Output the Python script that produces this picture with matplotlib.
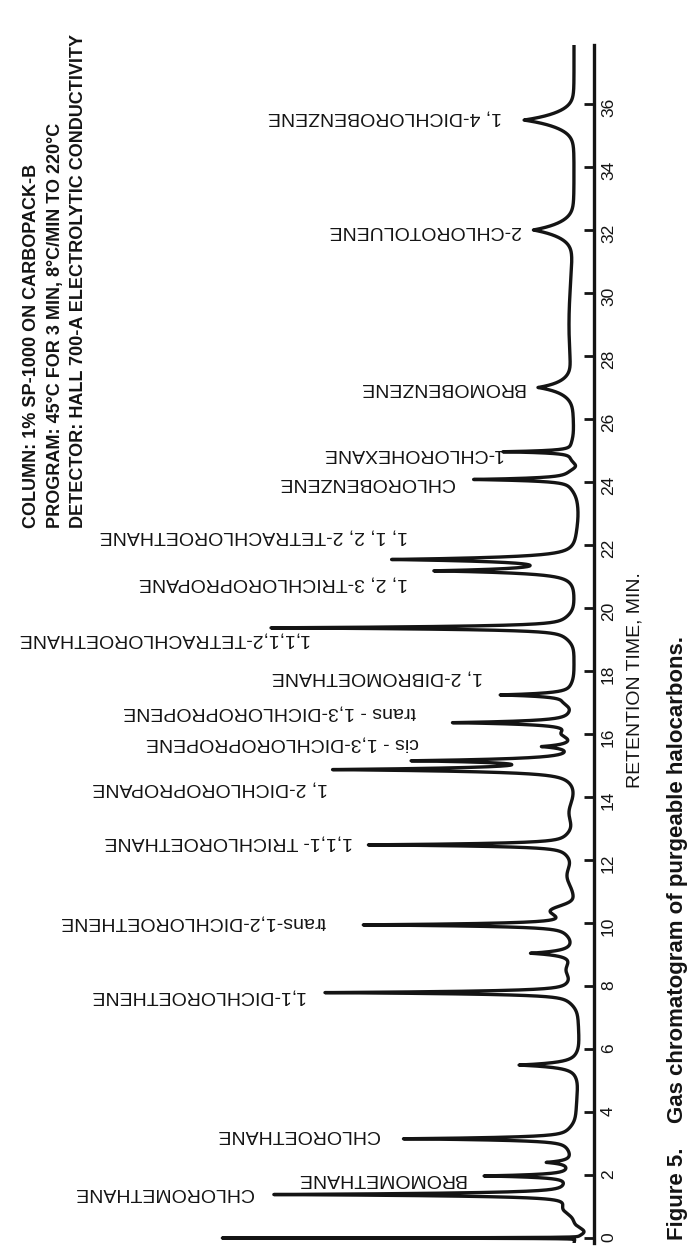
import numpy as np
import matplotlib
matplotlib.use("Agg")
import matplotlib.pyplot as plt
from matplotlib import font_manager

# ---- data ----
# peaks: retention time (min), height (signal units), tail width (min), foot height
peak_times = [0.0, 1.38, 1.97, 2.40, 3.15, 5.49, 7.79, 9.04, 9.94, 12.48,
              14.87, 15.15, 15.60, 16.36, 17.24, 19.37, 21.18, 21.54,
              24.08, 24.96, 27.0, 32.0, 35.49]
peak_heights = [362, 300, 88, 26, 172, 60, 252, 44, 213, 207,
                240, 150, 32, 122, 74, 305, 135, 178,
                102, 72, 34, 40, 50]
peak_widths = [0.008, 0.05, 0.05, 0.06, 0.05, 0.08, 0.05, 0.08, 0.05, 0.05,
               0.07, 0.07, 0.07, 0.06, 0.06, 0.05, 0.08, 0.08,
               0.05, 0.04, 0.15, 0.20, 0.20]
peak_feet = [0, 12, 6, 3, 12, 6, 14, 4, 14, 14,
             14, 0, 3, 8, 6, 16, 8, 8,
             8, 4, 6, 6, 8]

# slow baseline wander: centre (min), amplitude, spread (min)
drift_times = [0.2, 0.9, 6.0, 8.5, 10.4, 11.5, 13.5, 16.0, 17.0, 23.0, 24.5, 29.0]
drift_amps = [-10, 8, -5, 8, 20, 7, 5, 8, 5, -4, -5, 5]
drift_widths = [0.12, 0.15, 1.5, 0.2, 0.15, 0.3, 0.3, 0.1, 0.1, 0.6, 0.1, 1.5]

compounds = ["CHLOROMETHANE", "BROMOMETHANE", "CHLOROETHANE",
             "1,1-DICHLOROETHENE", "trans-1,2-DICHLOROETHENE",
             "1,1,1- TRICHLOROETHANE", "1, 2-DICHLOROPROPANE",
             "cis - 1,3-DICHLOROPROPENE", "trans - 1,3-DICHLOROPROPENE",
             "1, 2-DIBROMOETHANE", "1,1,1,2-TETRACHLOROETHANE",
             "1, 2, 3-TRICHLOROPROPANE", "1, 1, 2, 2-TETRACHLOROETHANE",
             "CHLOROBENZENE", "1-CHLOROHEXANE", "BROMOBENZENE",
             "2-CHLOROTOLUENE", "1, 4-DICHLOROBENZENE"]
label_times = [1.46, 1.9, 3.27, 7.68, 10.03, 12.57, 14.3, 15.7, 16.7,
               17.8, 19.0, 20.8, 22.3, 23.97, 24.9, 27.0, 32.0, 35.59]
label_levels = [321, 109, 195, 270, 248, 221, 246, 155, 158,
                91, 266, 166, 166, 120, 72, 50, 54, 72]

time_ticks = list(range(0, 37, 2))

header = ["COLUMN: 1% SP-1000 ON CARBOPACK-B",
          "PROGRAM: 45\u00b0C FOR 3 MIN, 8\u00b0C/MIN TO 220\u00b0C",
          "DETECTOR: HALL 700-A ELECTROLYTIC CONDUCTIVITY"]
axis_title = "RETENTION TIME, MIN."
caption = "Figure 5.    Gas chromatogram of purgeable halocarbons."

# ---- fonts ----
avail = {f.name for f in font_manager.fontManager.ttflist}
NARROW = "Liberation Sans Narrow" if "Liberation Sans Narrow" in avail else "Liberation Sans"
SANS = "Liberation Sans"
plt.rcParams["font.family"] = [SANS, "DejaVu Sans"]
head_size = 15 if NARROW != SANS else 13

# ---- build trace ----
t = np.linspace(-0.16, 37.9, 24000)
sig = np.zeros_like(t)
for t0, h, w, f in zip(peak_times, peak_heights, peak_widths, peak_feet):
    d = t - t0
    sig += (h - f) * np.exp(-np.abs(d) / w)
    if f:
        sig += f * np.exp(-0.5 * (d / 0.28) ** 2)
for t0, a, w in zip(drift_times, drift_amps, drift_widths):
    sig += a * np.exp(-0.5 * ((t - t0) / w) ** 2)

# ---- figure layout (pixels) ----
W, H = 691, 1249
AXIS_PX = 594      # vertical time axis
BASE_PX = 574      # detector baseline
T0_PX, PX_MIN = 1238, 31.5
TOP_PX, BOT_PX = 45, 1243

fig = plt.figure(figsize=(W / 100, H / 100), dpi=100)
ax = fig.add_axes([0, 1 - BOT_PX / H, AXIS_PX / W, (BOT_PX - TOP_PX) / H])
ax.set_xlim(BASE_PX, BASE_PX - AXIS_PX)
ax.set_ylim((T0_PX - BOT_PX) / PX_MIN, (T0_PX - TOP_PX) / PX_MIN)

ink = "#141414"
ax.plot(sig, t, color=ink, lw=2.4, solid_joinstyle="round", solid_capstyle="round")

for s in ["top", "left", "bottom"]:
    ax.spines[s].set_visible(False)
ax.spines["right"].set_linewidth(2.4)
ax.spines["right"].set_color(ink)
ax.set_xticks([])
ax.yaxis.set_ticks_position("right")
ax.set_yticks(time_ticks)
ax.set_yticklabels([str(v) for v in time_ticks])
ax.tick_params(axis="y", direction="in", length=7, width=2, colors=ink,
               labelsize=12.5, labelrotation=90, pad=5)

for name, lt, lv in zip(compounds, label_times, label_levels):
    ax.text(lv, lt, name, rotation=180, ha="right", va="center",
            fontsize=14, color=ink, clip_on=False)

for i, line in enumerate(header):
    fig.text((32 + 23.5 * i) / W, 1 - 528 / H, line, rotation=90, ha="center",
             va="bottom", fontsize=head_size, weight="bold",
             family=[NARROW, "DejaVu Sans"], color=ink)

fig.text(635 / W, 1 - 680 / H, axis_title, rotation=90, ha="center", va="center",
         fontsize=14, color=ink)
fig.text(677 / W, 1 - 1240 / H, caption, rotation=90, ha="center", va="bottom",
         fontsize=16, weight="bold", color=ink)

fig.savefig("out.png", dpi=100, facecolor="white")
